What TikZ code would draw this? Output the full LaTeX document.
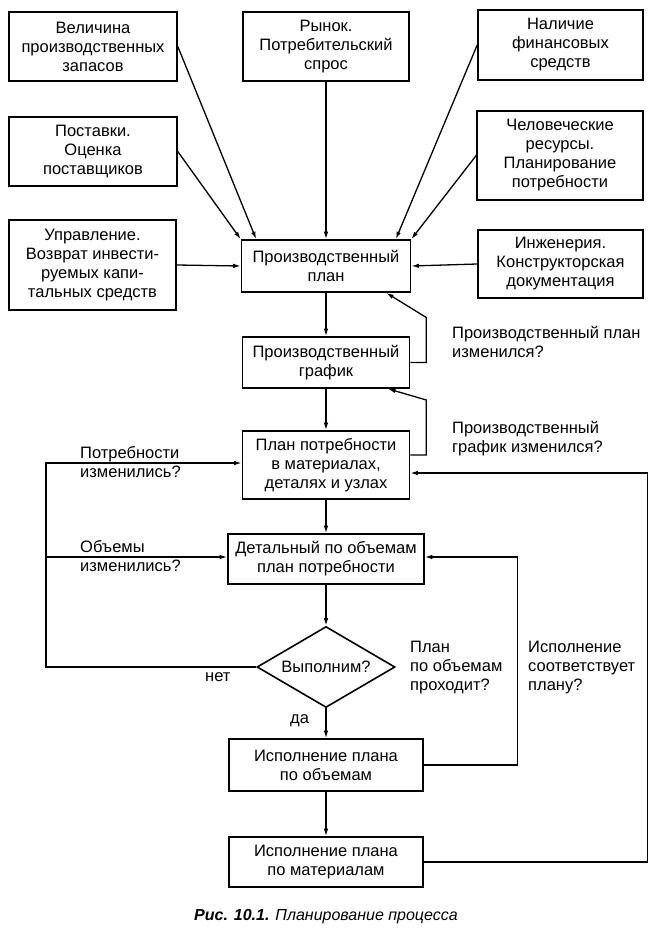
\documentclass[tikz,border=0pt]{standalone}
\usepackage{fontspec}
\setmainfont{Liberation Sans}
\usetikzlibrary{arrows.meta,shapes.geometric}
\newcommand{\dfont}{\fontsize{16.5}{19}\selectfont}
\begin{document}
\begin{tikzpicture}[x=1pt,y=-1pt,
  box/.style={draw,line width=1.6pt,inner sep=0pt,align=center,font=\dfont},
  lbl/.style={inner sep=0pt,align=left,anchor=west,font=\dfont},
  conn/.style={line width=1.3pt,-{Latex[length=7.5pt,width=4.5pt]}}]
\useasboundingbox (0,0) rectangle (666,939);
% top boxes
\node[box,minimum width=168pt,minimum height=69pt] (b1) at (93,46.5) {Величина\\производственных\\запасов};
\node[box,minimum width=166pt,minimum height=69pt] (b2) at (326,46.5) {Рынок.\\Потребительский\\спрос};
\node[box,minimum width=165pt,minimum height=70pt] (b3) at (560.5,45) {Наличие\\финансовых\\средств};
\node[box,minimum width=168pt,minimum height=69pt] (b4) at (93,151.5) {Поставки.\\Оценка\\поставщиков};
\node[box,minimum width=166pt,minimum height=89pt] (b5) at (560,155.5) {Человеческие\\ресурсы.\\Планирование\\потребности};
\node[box,minimum width=167pt,minimum height=90pt] (b6) at (92.5,265) {Управление.\\Возврат инвести-\\руемых капи-\\тальных средств};
\node[box,minimum width=165pt,minimum height=68pt] (b7) at (560.5,264) {Инженерия.\\Конструкторская\\документация};
% main column
\node[box,minimum width=169pt,minimum height=52pt] (plan) at (326,266) {Производственный\\план};
\node[box,minimum width=167pt,minimum height=51pt] (graf) at (326,362.5) {Производственный\\график};
\node[box,minimum width=167pt,minimum height=68pt] (mat) at (326,465) {План потребности\\в материалах,\\деталях и узлах};
\node[box,minimum width=196pt,minimum height=50pt] (det) at (326,559) {Детальный по объемам\\план потребности};
\node[draw,line width=1.6pt,diamond,shape aspect=1.7,inner sep=0pt,minimum width=138pt,minimum height=81pt,font=\dfont] (dia) at (326,667) {Выполним?};
\node[box,minimum width=194pt,minimum height=52pt] (ex1) at (326,765) {Исполнение плана\\по объемам};
\node[box,minimum width=194pt,minimum height=50pt] (ex2) at (326,862) {Исполнение плана\\по материалам};
% inputs to plan
\draw[conn] (b1.east) -- (plan.159);
\draw[conn] (b4.east) -- (plan.north west);
\draw[conn] (b6.east) -- (plan.west);
\draw[conn] (b2.south) -- (plan.north);
\draw[conn] (b3.west) -- (plan.21.5);
\draw[conn] (b5.west) -- (plan.north east);
\draw[conn] (b7.west) -- (plan.east);
% main flow
\draw[conn] (plan.south) -- (graf.north);
\draw[conn] (graf.south) -- (mat.north);
\draw[conn] (mat.south) -- (det.north);
\draw[conn] (det.south) -- (dia.north);
\draw[conn] (dia.south) -- (ex1.north);
\draw[conn] (ex1.south) -- (ex2.north);
% feedback loops
\draw[conn] (graf.east) -- ++(16,0) -- ++(0,-45) -- (plan.-24);
\draw[conn] ([yshift=10pt]mat.east) -- ++(16,0) -- ++(0,-55) -- (graf.-23.4);
\draw[conn] (ex1.east) -- ++(94,0) |- ([yshift=2pt]det.east);
\draw[conn] (ex2.east) -- ++(224,0) |- ([yshift=-8pt]mat.east);
\coordinate (lc) at (46,667);
\coordinate (lj) at (46,557);
\draw[conn] (dia.west) -- (lc) |- ([yshift=2pt]mat.west);
\draw[conn] (lj) -- ([yshift=2pt]det.west);
% labels
\node[lbl] (l1) at (452,342) {Производственный план\\изменился?};
\node[lbl] (l2) at (452,439) {Производственный\\график изменился?};
\node[lbl] (l3) at (80,462.5) {Потребности\\изменились?};
\node[lbl] (l4) at (80,556) {Объемы\\изменились?};
\node[lbl] (l5) at (410,668) {План\\по объемам\\проходит?};
\node[lbl] (l6) at (528,668) {Исполнение\\соответствует\\плану?};
\node[lbl] (no) at (205,677) {нет};
\node[lbl] (yes) at (290,721) {да};
\node[inner sep=0pt,font=\fontsize{16}{19}\selectfont] (cap) at (326,917) {{\bfseries\itshape Рис. 10.1.} {\itshape Планирование процесса}};
\end{tikzpicture}
\end{document}
